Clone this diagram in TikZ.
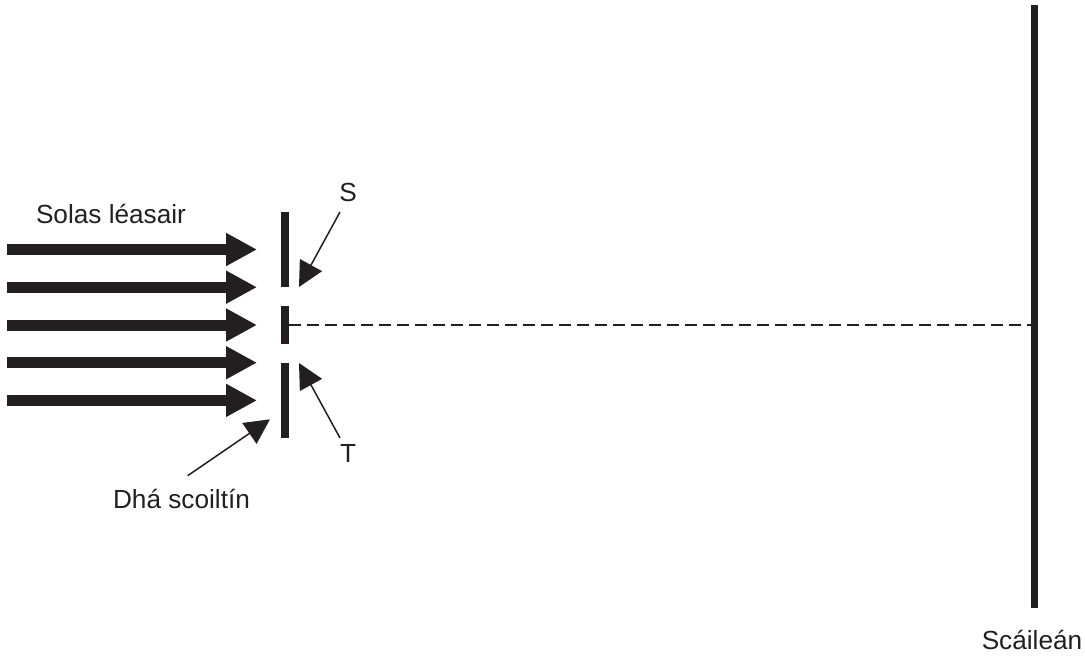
\documentclass[tikz,border=0pt]{standalone}
\usepackage{fontspec}
\setmainfont{Liberation Sans}
\usetikzlibrary{arrows.meta}
\definecolor{ink}{HTML}{231F20}
\tikzset{
  beam/.style={draw=ink,line width=11pt,-{Triangle[length=31pt,width=31pt,fill=ink]},shorten >=0pt},
  bar/.style={draw=ink,line width=8pt},
  screenbar/.style={draw=ink,line width=6.5pt},
  pointer/.style={draw=ink,line width=1.5pt,-{Triangle[length=25pt,width=25pt,fill=ink]}},
  axis/.style={draw=ink,line width=1.5pt,dash pattern=on 11.5pt off 6.5pt},
  lab/.style={text=ink,font=\fontsize{26.2}{30}\selectfont,inner sep=0pt,anchor=base}
}
\begin{document}
\begin{tikzpicture}[x=1pt,y=-1pt]
\useasboundingbox (0,0) rectangle (1085,656);
\foreach \n/\y in {a/249.5,b/287.2,c/325,d/362.7,e/400.4}{
  \coordinate (s\n) at (7,\y);
  \coordinate (t\n) at (257,\y);
  \draw[beam] (s\n) -- (t\n);
}
\coordinate (u1) at (285,212.3); \coordinate (u2) at (285,287.3);
\coordinate (m1) at (285,306.3); \coordinate (m2) at (285,344);
\coordinate (l1) at (285,362.7); \coordinate (l2) at (285,437.7);
\draw[bar] (u1) -- (u2);
\draw[bar] (m1) -- (m2);
\draw[bar] (l1) -- (l2);
\coordinate (sc1) at (1034.3,5); \coordinate (sc2) at (1034.3,608);
\draw[screenbar] (sc1) -- (sc2);
\coordinate (ax1) at (289,325); \coordinate (ax2) at (1031,325);
\draw[axis] (ax1) -- (ax2);
\node[lab] (las) at (111,223) {Solas léasair};
\node[lab] (S) at (348,201) {S};
\node[lab] (T) at (348,462.5) {T};
\node[lab] (dha) at (181.5,508) {Dhá scoiltín};
\node[lab] (scr) at (1032,649) {Scáileán};
\coordinate (ps) at (340,212); \coordinate (pst) at (299,287);
\coordinate (pt) at (340,438); \coordinate (ptt) at (299,363);
\coordinate (pd) at (187.7,475.7); \coordinate (pdt) at (270,419.3);
\draw[pointer] (ps) -- (pst);
\draw[pointer] (pt) -- (ptt);
\draw[pointer] (pd) -- (pdt);
\end{tikzpicture}
\end{document}
